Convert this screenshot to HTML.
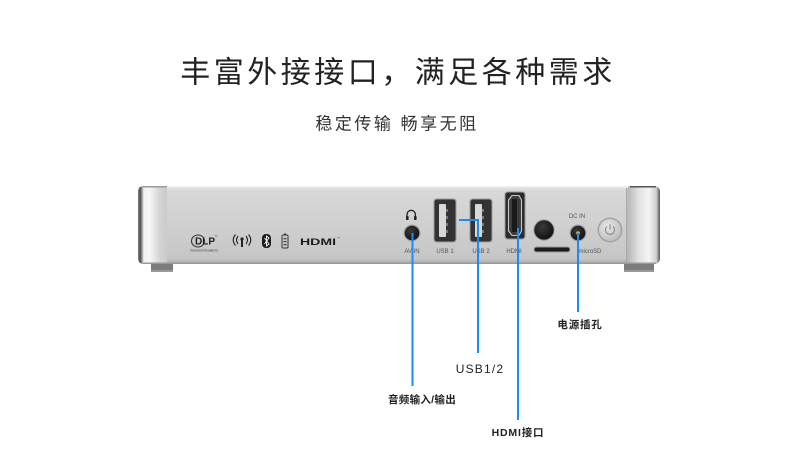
<!DOCTYPE html>
<html><head><meta charset="utf-8">
<style>
html,body{margin:0;padding:0;background:#fff;}
body{width:790px;height:469px;overflow:hidden;position:relative;}
svg{position:absolute;left:0;top:0;}
.cjk{font-family:"Liberation Sans","Noto Sans CJK SC",sans-serif;}
</style></head>
<body>
<svg width="790" height="469" viewBox="0 0 790 469" xmlns="http://www.w3.org/2000/svg">
<defs>
 <linearGradient id="body" x1="0" y1="0" x2="0" y2="1">
  <stop offset="0" stop-color="#e6e6e6"/>
  <stop offset="0.06" stop-color="#d8d8d8"/>
  <stop offset="0.5" stop-color="#d0d0d0"/>
  <stop offset="0.93" stop-color="#c6c6c6"/>
  <stop offset="1" stop-color="#a8a8a8"/>
 </linearGradient>
 <linearGradient id="capL" x1="0" y1="0" x2="1" y2="0">
  <stop offset="0" stop-color="#8a8a8a"/>
  <stop offset="0.07" stop-color="#4a4a4a"/>
  <stop offset="0.14" stop-color="#9a9a9a"/>
  <stop offset="0.2" stop-color="#f0f0f0"/>
  <stop offset="0.4" stop-color="#f6f6f6"/>
  <stop offset="0.75" stop-color="#d4d4d4"/>
  <stop offset="1" stop-color="#cacaca"/>
 </linearGradient>
 <linearGradient id="capR" x1="0" y1="0" x2="1" y2="0">
  <stop offset="0" stop-color="#b8b8b8"/>
  <stop offset="0.35" stop-color="#e2e2e2"/>
  <stop offset="0.65" stop-color="#f4f4f4"/>
  <stop offset="0.88" stop-color="#d0d0d0"/>
  <stop offset="0.95" stop-color="#8a8a8a"/>
  <stop offset="1" stop-color="#555"/>
 </linearGradient>
 <radialGradient id="pw" cx="0.4" cy="0.35" r="0.7">
  <stop offset="0" stop-color="#e8e8e8"/>
  <stop offset="1" stop-color="#bdbdbd"/>
 </radialGradient>
 <radialGradient id="blk" cx="0.4" cy="0.35" r="0.7">
  <stop offset="0" stop-color="#3a3a3a"/>
  <stop offset="1" stop-color="#101010"/>
 </radialGradient>
</defs>

<!-- Title -->
<text class="cjk" x="398" y="73" text-anchor="middle" dominant-baseline="central" font-size="30" letter-spacing="3.5" fill="#222">丰富外接接口，满足各种需求</text>
<text class="cjk" x="397" y="124" text-anchor="middle" dominant-baseline="central" font-size="17" letter-spacing="2.5" fill="#333">稳定传输 畅享无阻</text>

<!-- feet -->
<rect x="151" y="262" width="22" height="10" rx="1" fill="#7c7c7c"/>
<rect x="151" y="270" width="22" height="2" fill="#999"/>
<rect x="624" y="262" width="30" height="10" rx="1" fill="#7c7c7c"/>
<rect x="624" y="270" width="30" height="2" fill="#999"/>

<!-- body -->
<rect x="150" y="186" width="490" height="78" fill="url(#body)"/>
<rect x="150" y="186" width="490" height="1.5" fill="#f0f0f0"/>
<rect x="150" y="262.5" width="490" height="1.5" fill="#9a9a9a"/>
<!-- left cap -->
<path d="M144 186 H167 V264 H144 Q138 264 138 258 V192 Q138 186 144 186 Z" fill="url(#capL)"/>
<rect x="143" y="186" width="24" height="1.5" fill="#9a9a9a"/>
<rect x="143" y="262.5" width="24" height="1.5" fill="#999"/>
<!-- right cap -->
<path d="M628 186 H654 Q660 186 660 192 V258 Q660 264 654 264 H628 Z" fill="url(#capR)"/>
<rect x="630" y="186" width="26" height="1.5" fill="#555"/>
<rect x="628" y="262.5" width="28" height="1.5" fill="#999"/>
<rect x="626" y="188" width="1.5" height="75" fill="#a8a8a8"/>

<!-- left logos -->
<ellipse cx="198" cy="241" rx="6.5" ry="6" fill="none" stroke="#333" stroke-width="1.1"/>
<text x="195" y="244.5" font-family="Liberation Sans,sans-serif" font-weight="bold" font-size="10" fill="#222">DLP</text>
<text x="215" y="237" font-family="Liberation Sans,sans-serif" font-size="3" fill="#333">®</text>
<text x="190" y="251.5" font-family="Liberation Sans,sans-serif" font-size="3" fill="#444" textLength="28">TEXAS INSTRUMENTS</text>

<g fill="none" stroke="#222" stroke-width="1.1">
 <path d="M238 236 Q235 240 238 244"/>
 <path d="M235.5 234.5 Q231 240 235.5 245.5"/>
 <path d="M246 236 Q249 240 246 244"/>
 <path d="M248.5 234.5 Q253 240 248.5 245.5"/>
</g>
<circle cx="242" cy="239" r="1.6" fill="#222"/>
<rect x="241" y="240" width="2" height="7" fill="#222"/>

<rect x="262" y="234" width="9" height="14" rx="4" fill="#1c1c1c"/>
<path d="M264.5 238 L269 244 L266.5 246 V236 L269 238 L264.5 244" fill="none" stroke="#fff" stroke-width="0.9"/>

<rect x="282" y="235" width="6" height="13" rx="1" fill="none" stroke="#333" stroke-width="1"/>
<rect x="284" y="233.5" width="2" height="1.5" fill="#333"/>
<rect x="283.5" y="238" width="3" height="1.3" fill="#444"/>
<rect x="283.5" y="241" width="3" height="1.3" fill="#444"/>
<rect x="283.5" y="244" width="3" height="1.3" fill="#444"/>

<text x="300" y="245" font-family="Liberation Sans,sans-serif" font-weight="bold" font-size="9" fill="#1c1c1c" textLength="36" lengthAdjust="spacingAndGlyphs">HDMI</text>
<text x="337" y="239" font-family="Liberation Sans,sans-serif" font-size="3" fill="#333">™</text>

<!-- headphone icon -->
<path d="M407 218 V214.5 A4.2 4.2 0 0 1 415.4 214.5 V218" fill="none" stroke="#222" stroke-width="1.3"/>
<rect x="406" y="216" width="2.6" height="4" rx="0.8" fill="#222"/>
<rect x="414" y="216" width="2.6" height="4" rx="0.8" fill="#222"/>

<!-- AV jack -->
<circle cx="412" cy="233" r="8.5" fill="#a4a4a4"/>
<circle cx="412" cy="233" r="7.3" fill="url(#blk)"/>
<text x="412" y="253" text-anchor="middle" font-family="Liberation Sans,sans-serif" font-size="6" fill="#555">AV IN</text>

<!-- USB ports -->
<g>
 <rect x="433.5" y="198.5" width="23" height="44" rx="3" fill="#9c9c9c"/>
 <rect x="434.5" y="199.5" width="21" height="42" rx="2.5" fill="#333"/>
 <rect x="439" y="204" width="7" height="33" rx="1" fill="#d8d8d8"/>
 <rect x="446" y="209" width="2" height="3" fill="#777"/>
 <rect x="446" y="216" width="2" height="3" fill="#777"/>
 <rect x="446" y="223" width="2" height="3" fill="#777"/>
 <rect x="446" y="230" width="2" height="3" fill="#777"/>
 <text x="445" y="253" text-anchor="middle" font-family="Liberation Sans,sans-serif" font-size="6" fill="#555">USB 1</text>
</g>
<g>
 <rect x="469.5" y="198.5" width="23" height="44" rx="3" fill="#9c9c9c"/>
 <rect x="470.5" y="199.5" width="21" height="42" rx="2.5" fill="#333"/>
 <rect x="475" y="204" width="7" height="33" rx="1" fill="#d8d8d8"/>
 <rect x="482" y="209" width="2" height="3" fill="#777"/>
 <rect x="482" y="216" width="2" height="3" fill="#777"/>
 <rect x="482" y="223" width="2" height="3" fill="#777"/>
 <rect x="482" y="230" width="2" height="3" fill="#777"/>
 <text x="481" y="253" text-anchor="middle" font-family="Liberation Sans,sans-serif" font-size="6" fill="#555">USB 2</text>
</g>

<!-- HDMI port -->
<rect x="504.5" y="191.5" width="21" height="48" rx="3" fill="#9a9a9a"/>
<rect x="505.5" y="192.5" width="19" height="46" rx="2.5" fill="#2a2a2a"/>
<path d="M508.5 200 L512 195.5 H519 L521.5 200 V231 L519 235.5 H512 L508.5 231 Z" fill="#3c3c3c" stroke="#c8c8c8" stroke-width="1.1"/>
<rect x="512" y="199" width="5" height="33" fill="#1a1a1a"/>
<text x="514" y="253" text-anchor="middle" font-family="Liberation Sans,sans-serif" font-size="6" fill="#555">HDMI</text>

<!-- black button -->
<circle cx="544" cy="230" r="10.5" fill="#8a8a8a"/>
<circle cx="544" cy="230" r="9.6" fill="url(#blk)"/>
<!-- microSD slot -->
<rect x="533.5" y="246.5" width="37" height="6" rx="3" fill="#9a9a9a"/>
<rect x="534.5" y="247.5" width="35" height="4" rx="2" fill="#1c1c1c"/>

<!-- DC jack -->
<text x="577" y="218" text-anchor="middle" font-family="Liberation Sans,sans-serif" font-size="6" fill="#555">DC IN</text>
<circle cx="578" cy="233" r="8.5" fill="#a4a4a4"/>
<circle cx="578" cy="233" r="7.3" fill="url(#blk)"/>
<circle cx="578" cy="233" r="1.8" fill="#c8b16a"/>
<text x="590" y="253" text-anchor="middle" font-family="Liberation Sans,sans-serif" font-size="6" fill="#555">microSD</text>

<!-- power button -->
<circle cx="610" cy="230" r="12.5" fill="#a2a2a2"/>
<circle cx="610" cy="230" r="11" fill="url(#pw)"/>
<path d="M607 226.5 A4.5 4.5 0 1 0 613 226.5" fill="none" stroke="#7e7e7e" stroke-width="1"/>
<line x1="610" y1="224.5" x2="610" y2="229.5" stroke="#7e7e7e" stroke-width="1"/>

<!-- blue connectors -->
<g stroke="#1a8cf5" stroke-width="2" fill="none">
 <path d="M412.5 233 V386"/>
 <path d="M459 220 H478 V353"/>
 <path d="M518 228 V420"/>
 <path d="M578 233 V312"/>
</g>

<!-- labels -->
<g class="cjk" font-size="10.5" font-weight="bold" fill="#222" text-anchor="middle" dominant-baseline="central">
 <text x="580" y="325" letter-spacing="0.8">电源插孔</text>
 <text x="480" y="369" font-size="12" font-weight="normal" letter-spacing="1.2" fill="#222">USB1/2</text>
 <text x="422" y="400" letter-spacing="0.3">音频输入/输出</text>
 <text x="518" y="433" letter-spacing="0.8">HDMI接口</text>
</g>
</svg>
</body></html>
